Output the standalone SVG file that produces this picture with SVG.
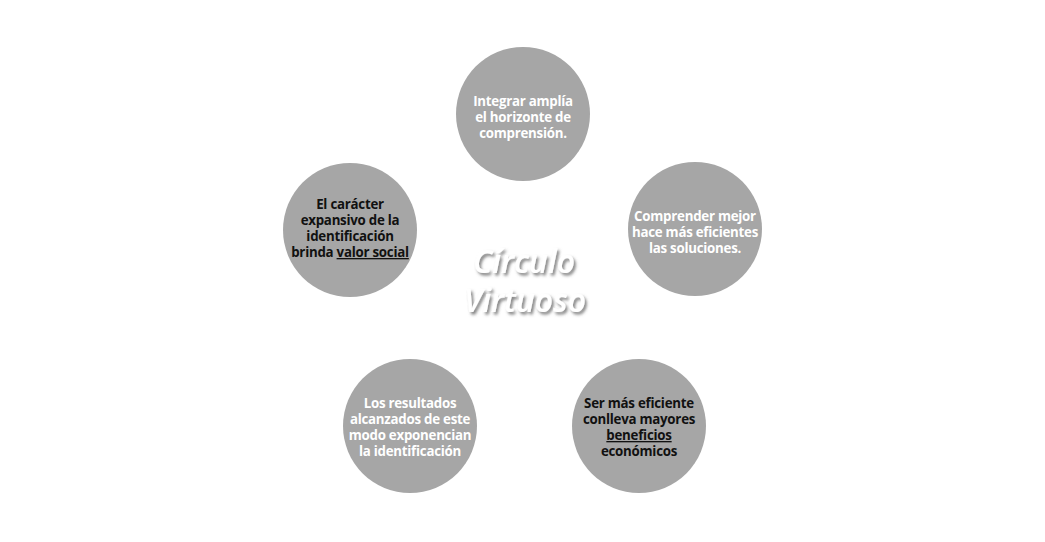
<svg xmlns="http://www.w3.org/2000/svg" width="1045" height="542" viewBox="0 0 1045 542">
<defs>
<filter id="sh" x="-20%" y="-30%" width="140%" height="160%">
<feDropShadow dx="2" dy="2.5" stdDeviation="1.6" flood-color="#555" flood-opacity="0.75"/>
</filter>
<style>
.c{fill:#a6a6a6}
.t{font-family:"Open Sans","Noto Sans",sans-serif;font-weight:700;font-size:13.3px;text-anchor:middle;letter-spacing:-0.25px}
.w{fill:#ffffff}
.k{fill:#111111}
.u{text-decoration:underline}
.title{font-family:"Open Sans","DejaVu Sans",sans-serif;font-style:italic;font-weight:600;font-size:32px;fill:#ffffff;text-anchor:middle;filter:url(#sh)}
</style>
</defs>
<rect width="1045" height="542" fill="#ffffff"/>
<g id="connectors"></g>
<g id="title">
<text class="title" x="524" y="273">Círculo</text>
<text class="title" x="525" y="312">Virtuoso</text>
</g>
<g id="n1">
<circle class="c" cx="523" cy="114" r="67"/>
<text class="t w"><tspan x="523" y="106">Integrar amplía</tspan><tspan x="523" y="122">el horizonte de</tspan><tspan x="523" y="138">comprensión.</tspan></text>
</g>
<g id="n2">
<circle class="c" cx="695" cy="229" r="67"/>
<text class="t w"><tspan x="695" y="221">Comprender mejor</tspan><tspan x="695" y="237">hace más eficientes</tspan><tspan x="695" y="253">las soluciones.</tspan></text>
</g>
<g id="n3">
<circle class="c" cx="639" cy="426" r="67"/>
<text class="t k"><tspan x="639" y="408">Ser más eficiente</tspan><tspan x="639" y="424">conlleva mayores</tspan><tspan x="639" y="440" class="u">beneficios</tspan><tspan x="639" y="456">económicos</tspan></text>
</g>
<g id="n4">
<circle class="c" cx="410" cy="426" r="67"/>
<text class="t w"><tspan x="410" y="408">Los resultados</tspan><tspan x="410" y="424">alcanzados de este</tspan><tspan x="410" y="440">modo exponencian</tspan><tspan x="410" y="456">la identificación</tspan></text>
</g>
<g id="n5">
<circle class="c" cx="350" cy="230" r="67"/>
<text class="t k"><tspan x="350" y="209">El carácter</tspan><tspan x="350" y="225">expansivo de la</tspan><tspan x="350" y="241">identificación</tspan><tspan x="350" y="257">brinda <tspan class="u">valor social</tspan></tspan></text>
</g>
</svg>
